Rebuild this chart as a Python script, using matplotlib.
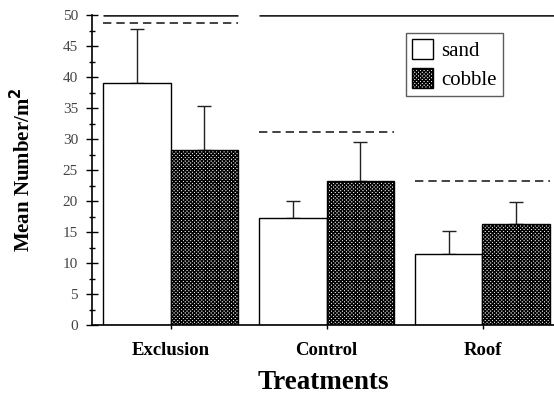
import numpy as np
import matplotlib
matplotlib.use("Agg")
import matplotlib.pyplot as plt
from matplotlib.ticker import MultipleLocator

# values
categories = ['Exclusion', 'Control', 'Roof']
sand = [39.1, 17.2, 11.5]
sand_err = [8.6, 2.8, 3.7]
cobble = [28.3, 23.2, 16.3]
cobble_err = [7.0, 6.3, 3.6]
dashed_ref = [48.7, 31.2, 23.2]
solid_ref = 50

plt.rcParams['font.family'] = ['Liberation Serif', 'DejaVu Serif']
plt.rcParams['hatch.linewidth'] = 1.0

fig = plt.figure(figsize=(5.54, 3.94), dpi=100)
ax = fig.add_axes([92 / 554, 1 - 325 / 394, 1 - 92 / 554, 310 / 394])

x = np.arange(len(categories))
w = 0.43

ax.bar(x - w / 2, sand, w, color='white', edgecolor='black', linewidth=1.0,
       label='sand', zorder=2)
ax.bar(x + w / 2, cobble, w, color='white', edgecolor='black', linewidth=1.0,
       hatch='xxxxxxxxx', label='cobble', zorder=2)
ax.errorbar(x - w / 2, sand, yerr=[np.zeros(3), sand_err], fmt='none',
            ecolor='#222222', elinewidth=1.0, capsize=4.8, capthick=1.0, zorder=1)
ax.errorbar(x + w / 2, cobble, yerr=[np.zeros(3), cobble_err], fmt='none',
            ecolor='#222222', elinewidth=1.0, capsize=4.8, capthick=1.0, zorder=1)

xmax = (554 - 170.5) / 156
# reference lines per treatment
for i, v in enumerate(dashed_ref):
    ax.hlines(v, i - w, i + w, colors='#222222', linestyles=(0, (5, 3)),
              linewidth=1.2, zorder=3)
ax.hlines(solid_ref, 0 - w, 0 + w, colors='#222222', linewidth=1.8, zorder=3)
ax.hlines(solid_ref, 1 - w, xmax, colors='#222222', linewidth=1.8, zorder=3)

ax.set_xlim((92 - 170.5) / 156, xmax)
ax.set_ylim(0, 50)
ax.spines['top'].set_visible(False)
ax.spines['right'].set_visible(False)
ax.spines['left'].set_linewidth(1.2)
ax.spines['bottom'].set_linewidth(1.2)

ax.yaxis.set_major_locator(MultipleLocator(5))
ax.yaxis.set_minor_locator(MultipleLocator(2.5))
ax.tick_params(axis='y', which='major', direction='inout', length=8, width=1,
               labelsize=11, labelcolor='#444444', pad=6)
ax.tick_params(axis='y', which='minor', direction='inout', length=5, width=1)
ax.set_xticks(x)
ax.set_xticklabels(categories)
ax.tick_params(axis='x', direction='out', length=3, width=1, labelsize=13.5, pad=9)
for lab in ax.get_xticklabels():
    lab.set_fontweight('bold')

ax.set_ylabel('Mean Number/m$^{\\mathbf{2}}$', fontsize=15, fontweight='bold',
              labelpad=20)
ax.set_xlabel('Treatments', fontsize=19.5, fontweight='bold', labelpad=8)

leg = ax.legend(loc='upper left', bbox_to_anchor=((406 - 92) / 462, 1 - 18 / 310),
                frameon=True, fancybox=False, fontsize=15, handlelength=1.0,
                handleheight=1.05, handletextpad=0.4, borderpad=0.3,
                labelspacing=0.35, borderaxespad=0)
leg.get_frame().set_edgecolor('#333333')
leg.get_frame().set_linewidth(1.0)

fig.savefig('out.png', dpi=100)
